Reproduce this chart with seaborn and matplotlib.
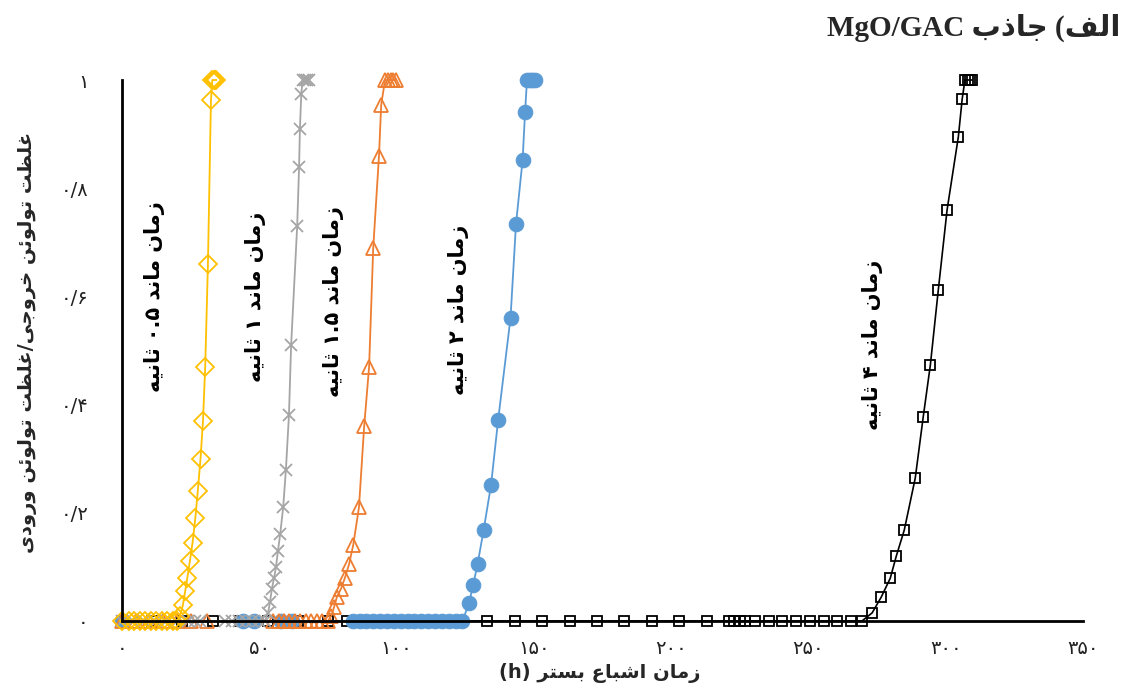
import re

import numpy as np
import pandas as pd
import seaborn as sns
import matplotlib.pyplot as plt

# breakthrough data (time h, C/C0)
t_05 = [0, 2.5, 4.5, 6.5, 8.5, 10.5, 12.5, 14.5, 16.5, 18.5, 20,
        21.2, 22.2, 23.0, 23.8, 24.7, 25.7, 26.7, 27.6, 28.6, 29.5, 30.3, 31.3, 32.4,
        32.9, 33.4, 33.9, 34.4]
c_05 = [0, 0, 0, 0, 0, 0, 0, 0, 0, 0, 0,
        0.01, 0.03, 0.055, 0.08, 0.11, 0.145, 0.19, 0.24, 0.30, 0.37, 0.47, 0.66, 0.963,
        1, 1, 1, 1]

t_1 = [0, 4, 8, 12, 16, 20, 24, 26.5, 28.5, 37.5, 40, 42.5, 45, 47.5, 50, 52,
       53.2, 53.9, 54.6, 55.4, 56.1, 56.8, 57.6, 58.7, 59.7, 60.8, 61.6, 63.8, 64.5, 64.8, 65.3,
       65.8, 66.5, 67.2, 68]
c_1 = [0] * 16 + [0.015, 0.035, 0.06, 0.08, 0.10, 0.13, 0.16, 0.21, 0.28, 0.38, 0.51,
                  0.73, 0.84, 0.91, 0.975, 1, 1, 1, 1]

t_15 = [0, 5, 10, 15, 20, 25, 31, 55, 57, 59, 61, 63, 65, 67, 69, 71, 73, 75,
        76.3, 77.2, 78.3, 79.8, 81.2, 82.7, 84.2, 86.3, 88.2, 90.0, 91.5, 93.6, 94.4,
        95.8, 96.8, 97.8, 98.8, 99.8]
c_15 = [0] * 18 + [0.01, 0.025, 0.045, 0.06, 0.08, 0.105, 0.14, 0.21, 0.36, 0.47, 0.69,
                   0.86, 0.954, 1, 1, 1, 1, 1]

t_2 = [0, 44, 48, 58, 62, 84, 86.5, 89, 91.5, 94, 96.5, 99, 101.5, 104, 106.5, 109,
       111.5, 114, 116.5, 119, 121.5, 124,
       126.4, 127.9, 129.5, 131.7, 134.4, 137.0, 141.5, 143.5, 145.9, 146.8,
       147.5, 148.5, 149.5, 150.5]
c_2 = [0] * 22 + [0.033, 0.067, 0.105, 0.168, 0.251, 0.372, 0.56, 0.734, 0.852, 0.941,
                  1, 1, 1, 1]

t_4 = [0, 11, 22, 33, 43, 53, 64, 75, 82, 92, 102, 112, 122, 133, 143, 153, 163, 173,
       183, 193, 203, 213, 221, 223, 225, 227, 230.5, 235.5, 240.5, 245.5, 250.5, 255.5,
       260.5, 265.5, 269.5,
       273.2, 276.5, 279.8, 282.0, 284.9, 288.9, 291.8, 294.4, 297.3, 300.5, 304.6, 306.0,
       307, 308, 308.8, 309.6]
c_4 = [0] * 35 + [0.015, 0.044, 0.079, 0.12, 0.168, 0.264, 0.377, 0.473, 0.612, 0.76,
                  0.895, 0.965, 1, 1, 1, 1]

x_ticks = [0, 50, 100, 150, 200, 250, 300, 350]
x_tick_labels = ['۰', '۵۰', '۱۰۰', '۱۵۰', '۲۰۰', '۲۵۰', '۳۰۰', '۳۵۰']
y_ticks = [0, 0.2, 0.4, 0.6, 0.8, 1]
y_tick_labels = ['۰', '۰/۲', '۰/۴', '۰/۶', '۰/۸', '۱']

# matplotlib has no arabic shaping, so do it by hand with presentation forms
FORMS = {
    'ا': ('\ufe8d', '\ufe8e'),
    'ب': ('\ufe8f', '\ufe90', '\ufe91', '\ufe92'),
    'ت': ('\ufe95', '\ufe96', '\ufe97', '\ufe98'),
    'ث': ('\ufe99', '\ufe9a', '\ufe9b', '\ufe9c'),
    'ج': ('\ufe9d', '\ufe9e', '\ufe9f', '\ufea0'),
    'خ': ('\ufea5', '\ufea6', '\ufea7', '\ufea8'),
    'د': ('\ufea9', '\ufeaa'),
    'ذ': ('\ufeab', '\ufeac'),
    'ر': ('\ufead', '\ufeae'),
    'ز': ('\ufeaf', '\ufeb0'),
    'س': ('\ufeb1', '\ufeb2', '\ufeb3', '\ufeb4'),
    'ش': ('\ufeb5', '\ufeb6', '\ufeb7', '\ufeb8'),
    'ظ': ('\ufec5', '\ufec6', '\ufec7', '\ufec8'),
    'ع': ('\ufec9', '\ufeca', '\ufecb', '\ufecc'),
    'غ': ('\ufecd', '\ufece', '\ufecf', '\ufed0'),
    'ف': ('\ufed1', '\ufed2', '\ufed3', '\ufed4'),
    'ل': ('\ufedd', '\ufede', '\ufedf', '\ufee0'),
    'م': ('\ufee1', '\ufee2', '\ufee3', '\ufee4'),
    'ن': ('\ufee5', '\ufee6', '\ufee7', '\ufee8'),
    'ه': ('\ufee9', '\ufeea', '\ufeeb', '\ufeec'),
    'و': ('\ufeed', '\ufeee'),
    'ئ': ('\ufe89', '\ufe8a', '\ufe8b', '\ufe8c'),
    'ی': ('\ufbfc', '\ufbfd', '\ufbfe', '\ufbff'),
}


def fa(s):
    out = []
    for i, ch in enumerate(s):
        f = FORMS.get(ch)
        if f is None:
            out.append(ch)
            continue
        prev = s[i - 1] if i > 0 else ''
        nxt = s[i + 1] if i + 1 < len(s) else ''
        jp = prev in FORMS and len(FORMS[prev]) == 4
        jn = len(f) == 4 and nxt in FORMS
        if jp and jn:
            out.append(f[3])
        elif jp:
            out.append(f[1])
        elif jn:
            out.append(f[2])
        else:
            out.append(f[0])
    vis = ''.join(out)[::-1]
    # digits / latin runs stay left to right
    return re.sub(r'[0-9۰-۹A-Za-z().]+', lambda m: m.group(0)[::-1], vis)


sns.set_style('white')
plt.rcParams['font.family'] = ['DejaVu Sans']

W, H = 1126, 685
fig = plt.figure(figsize=(W / 100, H / 100), dpi=100)
ax = fig.add_axes([122 / W, 1 - 621 / H, (1083 - 122) / W, (621 - 80) / H])

mew = 1.3
sns.lineplot(x=t_4, y=c_4, ax=ax, color='black', lw=1.2, marker='s', ms=7.5,
             mfc='none', mec='black', mew=mew, sort=False, estimator=None, clip_on=False)
sns.lineplot(x=t_2, y=c_2, ax=ax, color='#5B9BD5', lw=1.3, marker='o', ms=10.5,
             mfc='#5B9BD5', mec='#5B9BD5', sort=False, estimator=None, clip_on=False)
sns.lineplot(x=t_15, y=c_15, ax=ax, color='#ED7D31', lw=1.3, marker='^', ms=10.5,
             mfc='none', mec='#ED7D31', mew=mew, sort=False, estimator=None, clip_on=False)
sns.lineplot(x=t_1, y=c_1, ax=ax, color='#A5A5A5', lw=1.3, marker='x', ms=9,
             mec='#A5A5A5', mew=mew, sort=False, estimator=None, clip_on=False)
sns.lineplot(x=t_05, y=c_05, ax=ax, color='#FFC000', lw=1.3, marker='D', ms=9,
             mfc='none', mec='#FFC000', mew=mew, sort=False, estimator=None, clip_on=False)

ax.set_xlim(0, 350)
ax.set_ylim(0, 1)
ax.set_xticks(x_ticks)
ax.set_xticklabels(x_tick_labels, fontsize=14, color='#222222')
ax.set_yticks(y_ticks)
ax.set_yticklabels(y_tick_labels, fontsize=14, color='#222222')
ax.tick_params(length=0)
ax.tick_params(axis='x', pad=13)
ax.tick_params(axis='y', pad=24)
for side in ['top', 'right']:
    ax.spines[side].set_visible(False)
for side in ['left', 'bottom']:
    ax.spines[side].set_color('black')
    ax.spines[side].set_linewidth(2)
ax.set_xlabel('')
ax.set_ylabel('')

# rotated labels of each curve
notes = [
    (12.0, 0.60, 'زمان ماند ۰.۵ ثانیه'),
    (48.5, 0.60, 'زمان ماند ۱ ثانیه'),
    (77.0, 0.59, 'زمان ماند ۱.۵ ثانیه'),
    (122.6, 0.575, 'زمان ماند ۲ ثانیه'),
    (273.2, 0.51, 'زمان ماند ۴ ثانیه'),
]
for x, y, s in notes:
    ax.text(x, y, fa(s), rotation=90, ha='center', va='center', fontsize=15,
            fontweight='bold', color='black')

fig.text(28 / W, 1 - 342 / H, fa('غلظت تولوئن خروجی/غلظت تولوئن ورودی'), rotation=90,
         ha='center', va='center', fontsize=14, fontweight='bold')
fig.text(600 / W, 1 - 673 / H, fa('زمان اشباع بستر (h)'), ha='center', va='center',
         fontsize=14, fontweight='bold')

title = 'MgO/GAC ' + fa('جاذب') + ' (' + fa('الف')
fig.text(1120 / W, 1 - 28 / H, title, ha='right', va='center', fontsize=21,
         fontweight='bold', family=['Liberation Serif', 'DejaVu Sans'])

fig.savefig('out.png', dpi=100)
